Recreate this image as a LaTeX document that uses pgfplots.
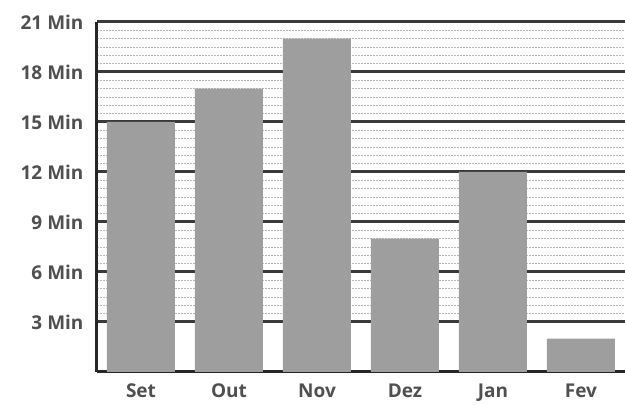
\documentclass[border=0pt]{standalone}
\usepackage{pgfplots}
\pgfplotsset{compat=1.18}
\usepackage{fontspec}
\setmainfont{Open Sans}
\definecolor{lab}{HTML}{505050}
\definecolor{barc}{HTML}{9E9E9E}
\definecolor{majg}{HTML}{3A3A3A}
\definecolor{ming}{HTML}{B8B8B8}
\begin{document}
\begin{tikzpicture}[x=1pt,y=1pt]
\begin{axis}[
  at={(0,0)}, anchor=south west,
  scale only axis,
  width=528pt, height=350pt,
  xmin=-0.5, xmax=5.5,
  ymin=0, ymax=21,
  xtick={0,1,2,3,4,5},
  xticklabels={Set,Out,Nov,Dez,Jan,Fev},
  ytick={3,6,9,12,15,18,21},
  yticklabels={3 Min,6 Min,9 Min,12 Min,15 Min,18 Min,21 Min},
  minor y tick num=5,
  major tick length=0pt, minor tick length=0pt,
  ymajorgrids, yminorgrids,
  major grid style={majg, line width=3pt},
  minor grid style={ming, line width=0.9pt, dash pattern=on 2pt off 1pt},
  axis x line*=bottom, axis y line*=left,
  axis line style={-, black!85, line width=3pt},
  tick label style={font=\fontsize{19}{22}\selectfont\bfseries, text=lab},
  yticklabel style={xshift=-10pt},
  xticklabel style={yshift=-11pt, inner sep=1pt},
  ybar, bar width=68pt,
  clip=false,
]
\addplot[fill=barc, draw=none] coordinates {(0,15) (1,17) (2,20) (3,8) (4,12) (5,2)};
\end{axis}
\pgfresetboundingbox
\path (-97,-34) rectangle (528,372);
\end{tikzpicture}
\end{document}
